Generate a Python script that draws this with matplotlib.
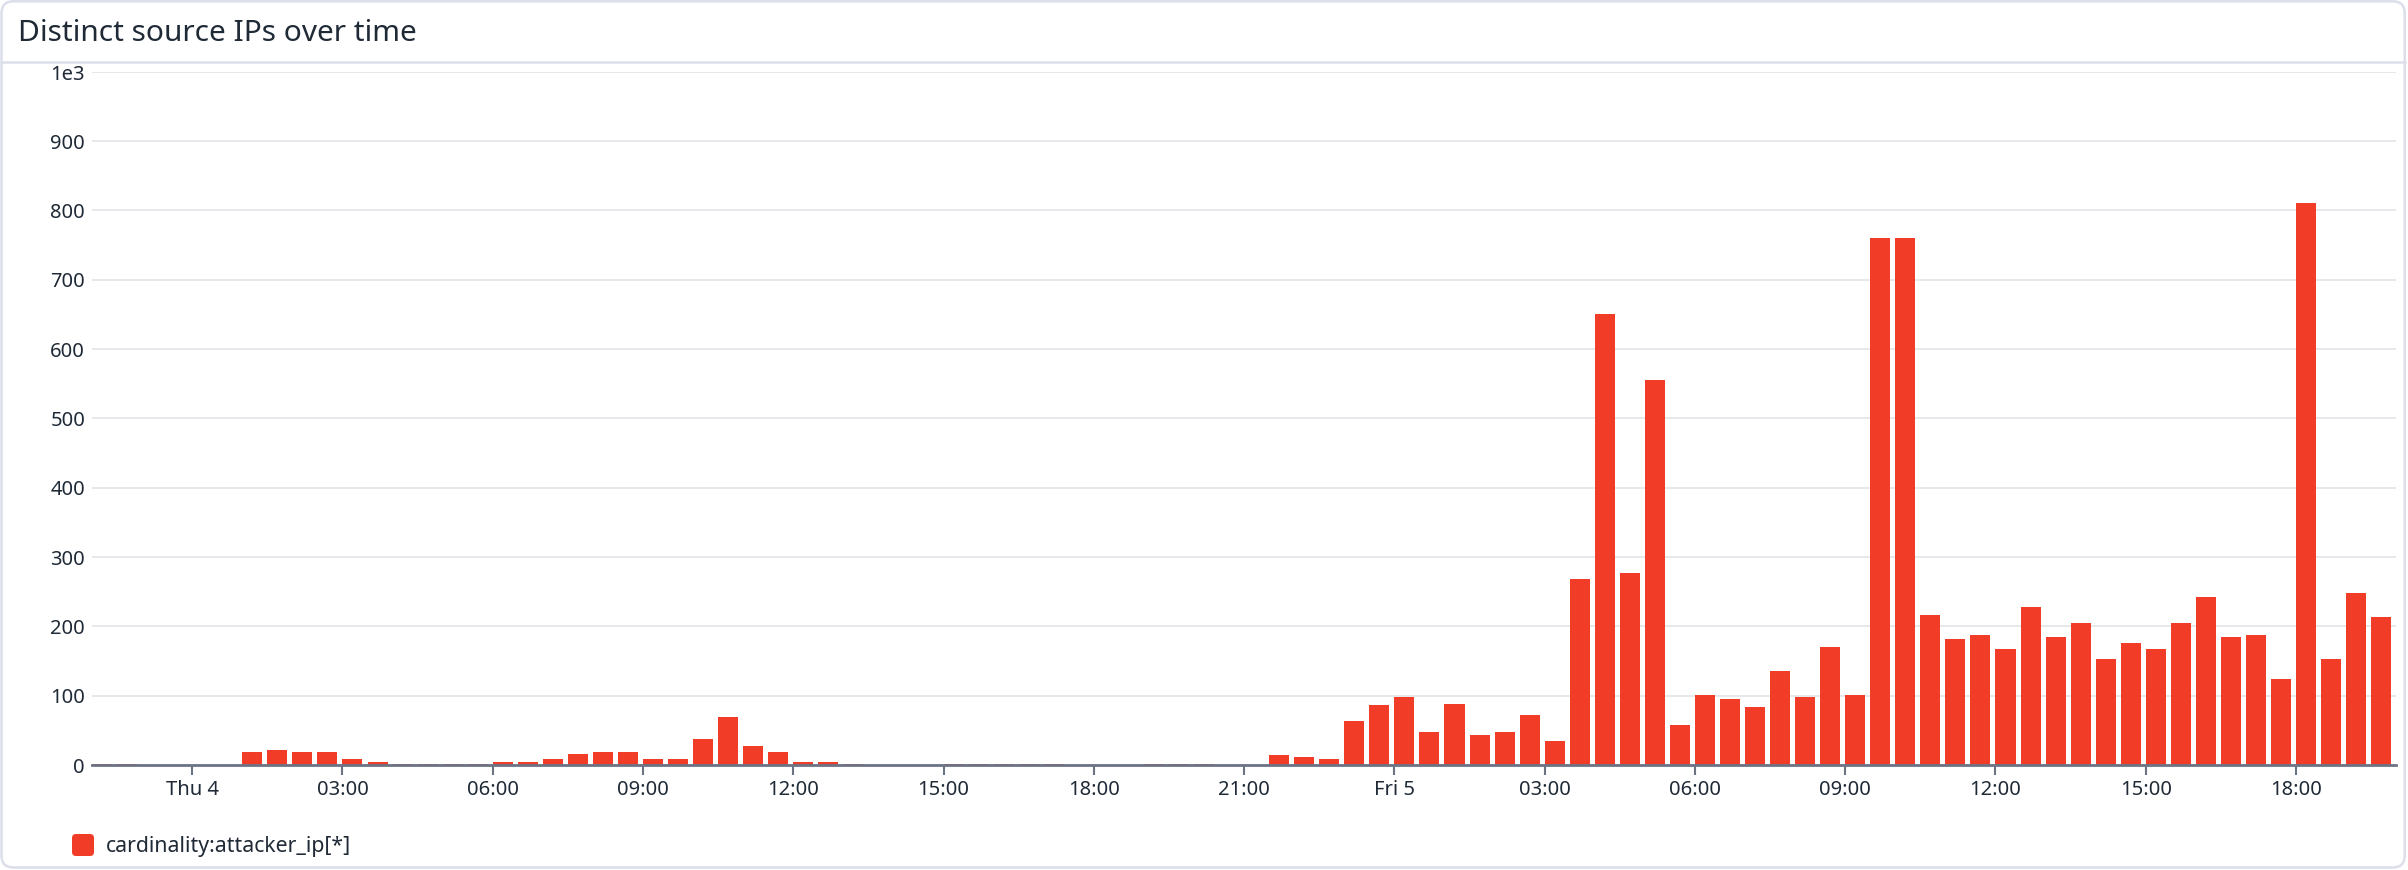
import numpy as np
import pandas as pd
import matplotlib
matplotlib.use("Agg")
import matplotlib.pyplot as plt
import matplotlib.dates as mdates
from matplotlib.patches import FancyBboxPatch
from matplotlib.lines import Line2D

plt.rcParams['font.family'] = ['Noto Sans', 'DejaVu Sans']

# data: distinct source IPs per 30 min bucket, starting Wed 22:00
start = "2024-01-03 22:00"
end = "2024-01-05 20:00"
ip_counts = [
    2, 2, 0, 0, 0, 0, 19, 22, 19, 19, 8, 5, 2, 2, 2, 2, 5, 5, 8, 16, 19, 19,
    8, 8, 37, 69, 28, 19, 5,
    5, 2, 0, 0, 0, 2, 2, 2, 2, 2, 0, 0, 0, 2, 2, 2, 0, 0, 14, 11, 8,
    63, 86, 98, 48, 88, 43, 48, 72, 34,
    268, 650, 277, 555, 57, 101, 95, 83, 135, 98, 170, 101, 760, 760,
    216, 182, 187, 167, 228, 185, 205, 153, 176, 167, 205, 242, 185, 187, 124,
    811, 153, 248, 213,
]
times = pd.date_range(start, periods=len(ip_counts), freq="30min")
y_ticks = [0, 100, 200, 300, 400, 500, 600, 700, 800, 900, 1000]
y_labels = ["0", "100", "200", "300", "400", "500", "600", "700", "800", "900", "1e3"]
series_name = "cardinality:attacker_ip[*]"
title = "Distinct source IPs over time"

W, H = 2408, 870
bar_color = "#f13d28"
text_color = "#1f2a36"
axis_color = "#6b7385"
grid_color = "#e2e4e9"

fig = plt.figure(figsize=(24.082, 8.702), dpi=100)
fig.patch.set_facecolor("white")

# card decoration in pixel coordinates
deco = fig.add_axes([0, 0, 1, 1])
deco.set_xlim(0, W)
deco.set_ylim(H, 0)
deco.axis("off")
deco.add_patch(FancyBboxPatch((1.5, 1.5), W - 5, H - 4, boxstyle="round,pad=0,rounding_size=12",
                              fc="white", ec="#dcdfea", lw=1.8))
deco.add_line(Line2D([1.5, W - 3.5], [62, 62], color="#dde0ea", lw=1.8))
deco.text(18, 33, title, fontsize=21.5, color=text_color, va="center", ha="left")
deco.add_patch(FancyBboxPatch((72, 834), 22, 22, boxstyle="round,pad=0,rounding_size=4",
                              fc=bar_color, ec="none"))
deco.text(106, 846, series_name, fontsize=15.3, color=text_color, va="center", ha="left")

ax = fig.add_axes([92 / W, 1 - 765 / H, (2396 - 92) / W, (765 - 72) / H])
ax.set_facecolor("none")
ax.bar(times, ip_counts, width=0.8 / 48, align="edge", color=bar_color, zorder=3)

ax.set_xlim(pd.Timestamp(start), pd.Timestamp(end))
ax.set_ylim(0, 1000)
ax.set_yticks(y_ticks)
ax.set_yticklabels(y_labels)
ax.yaxis.grid(True, color=grid_color, lw=1.2, zorder=0)
ax.tick_params(axis="y", length=0, pad=5, labelsize=14.5, labelcolor=text_color)

ax.xaxis.set_major_locator(mdates.HourLocator(byhour=range(0, 24, 3)))


def fmt(x, pos):
    d = mdates.num2date(x)
    if d.hour == 0:
        return d.strftime("%a ") + str(d.day)
    return d.strftime("%H:%M")


ax.xaxis.set_major_formatter(plt.FuncFormatter(fmt))
ax.tick_params(axis="x", length=7, width=1.5, color=axis_color, pad=4, labelsize=14.5,
               labelcolor=text_color)

for s in ["top", "right", "left"]:
    ax.spines[s].set_visible(False)
ax.spines["bottom"].set_color(axis_color)
ax.spines["bottom"].set_linewidth(2)
ax.spines["bottom"].set_zorder(4)

fig.savefig("out.png", dpi=100)
